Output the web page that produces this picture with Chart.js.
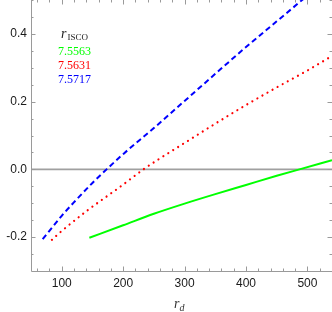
<!DOCTYPE html>
<html>
<head>
<meta charset="utf-8">
<script src="https://cdn.jsdelivr.net/npm/chart.js@4/dist/chart.umd.min.js"></script>
<style>
html,body{margin:0;padding:0;background:#fff;}
#wrap{width:332px;height:312px;}
</style>
</head>
<body>
<div id="wrap"><canvas id="c" width="332" height="312"></canvas></div>
<script>
// ---- data ----
const greenX = [145, 200, 250, 300, 350, 400, 450, 487, 540];
const greenY = [-0.202, -0.165, -0.131, -0.101, -0.073, -0.046, -0.019, 0.0, 0.027];

const redX = [84, 100, 143.5, 200, 233, 257, 300, 350, 400, 450, 500, 540];
const redY = [-0.208, -0.182, -0.119, -0.045, 0.0, 0.029, 0.078, 0.135, 0.190, 0.242, 0.292, 0.335];

const blueX = [69, 100, 119, 150, 173, 200, 250, 300, 350, 400, 450, 500];
const blueY = [-0.206, -0.137, -0.099, -0.040, 0.0, 0.045, 0.122, 0.202, 0.282, 0.361, 0.437, 0.513];

const legendTitle = "r";
const legendTitleSub = "ISCO";
const legendLabels = ["7.5563", "7.5631", "7.5717"];

const xTicks = [100, 200, 300, 400, 500];
const xTickLabels = ["100", "200", "300", "400", "500"];
const yTicks = [-0.2, 0.0, 0.2, 0.4];
const yTickLabels = ["-0.2", "0.0", "0.2", "0.4"];
const xMinorStep = 20;
const yMinorStep = 0.05;
const xRange = [50, 540];
const yRange = [-0.3, 0.5];

const xTitle = "r";
const xTitleSub = "d";

// ---- styles ----
const GREEN = "rgb(0,255,0)";
const RED = "rgb(255,0,0)";
const BLUE = "rgb(0,0,255)";
const legendColors = [GREEN, RED, BLUE];
const FRAME = "#9a9a9a";

const toPts = (xs, ys) => xs.map((x, i) => ({x: x, y: ys[i]}));

const framePlugin = {
  id: "frameTicks",
  beforeDatasetsDraw(chart) {
    const {ctx, chartArea: a, scales: {x, y}} = chart;
    ctx.save();
    ctx.strokeStyle = "#a0a0a0";
    ctx.lineWidth = 1.6;
    const y0 = y.getPixelForValue(0);
    ctx.beginPath(); ctx.moveTo(a.left, y0); ctx.lineTo(a.right, y0); ctx.stroke();
    ctx.restore();
  },
  afterDatasetsDraw(chart) {
    const {ctx, chartArea: a, scales: {x, y}} = chart;
    ctx.save();
    ctx.strokeStyle = FRAME;
    ctx.lineWidth = 1;
    ctx.beginPath();
    ctx.moveTo(a.left + 0.5, a.top); ctx.lineTo(a.left + 0.5, a.bottom + 0.5);
    ctx.lineTo(a.right, a.bottom + 0.5);
    ctx.stroke();
    const xs0 = Math.ceil(xRange[0] / xMinorStep) * xMinorStep;
    for (let v = xs0; v <= xRange[1]; v += xMinorStep) {
      const major = xTicks.includes(v);
      const len = major ? 4.5 : 2.5;
      const px = Math.round(x.getPixelForValue(v)) + 0.5;
      ctx.beginPath();
      ctx.moveTo(px, a.bottom); ctx.lineTo(px, a.bottom - len);
      ctx.moveTo(px, a.top); ctx.lineTo(px, a.top + len);
      ctx.stroke();
    }
    for (let k = Math.ceil(yRange[0] / yMinorStep); k * yMinorStep <= yRange[1] + 1e-9; k++) {
      const v = +(k * yMinorStep).toFixed(4);
      const major = yTicks.some(t => Math.abs(t - v) < 1e-9);
      const len = major ? 4.5 : 2.5;
      const py = Math.round(y.getPixelForValue(v)) + 0.5;
      ctx.beginPath();
      ctx.moveTo(a.left, py); ctx.lineTo(a.left + len, py);
      ctx.moveTo(a.right, py); ctx.lineTo(a.right - len, py);
      ctx.stroke();
    }
    const lx = a.left + 27;
    ctx.fillStyle = "#222";
    ctx.textBaseline = "alphabetic";
    ctx.textAlign = "left";
    ctx.font = "italic 14px 'Liberation Serif'";
    ctx.fillText(legendTitle, lx + 3, 38);
    const rw = ctx.measureText(legendTitle).width;
    ctx.font = "9px 'Liberation Serif'";
    ctx.fillText(legendTitleSub, lx + 3 + rw + 1, 40);
    ctx.font = "12px 'Liberation Serif'";
    const bases = [55, 68.5, 82.5];
    legendLabels.forEach((t, i) => {
      ctx.fillStyle = legendColors[i];
      ctx.fillText(t, lx, bases[i]);
    });
    ctx.fillStyle = "#333";
    ctx.font = "italic 14px 'Liberation Serif'";
    const cx = 174;
    ctx.fillText(xTitle, cx, 308);
    const tw = ctx.measureText(xTitle).width;
    ctx.font = "italic 10px 'Liberation Serif'";
    ctx.fillText(xTitleSub, cx + tw, 311);
    ctx.restore();
  }
};

new Chart(document.getElementById("c"), {
  type: "line",
  data: {
    datasets: [
      {data: toPts(greenX, greenY), borderColor: GREEN, borderWidth: 2, pointRadius: 0, cubicInterpolationMode: "monotone", fill: false},
      {data: toPts(redX, redY), borderColor: RED, borderWidth: 2.2, borderDash: [0.01, 5.8], borderCapStyle: "round", pointRadius: 0, cubicInterpolationMode: "monotone", fill: false},
      {data: toPts(blueX, blueY), borderColor: BLUE, borderWidth: 2, borderDash: [5.5, 3.5], pointRadius: 0, cubicInterpolationMode: "monotone", fill: false}
    ]
  },
  options: {
    responsive: false,
    animation: false,
    devicePixelRatio: 1,
    layout: {padding: {left: 0, right: 0, top: 0, bottom: 0}},
    plugins: {legend: {display: false}, tooltip: {enabled: false}, title: {display: false}},
    scales: {
      x: {
        type: "linear", min: xRange[0], max: xRange[1],
        grid: {display: false, drawTicks: false},
        border: {display: false},
        afterBuildTicks: s => { s.ticks = xTicks.map(v => ({value: v})); },
        afterFit: s => { s.height = 41; s.paddingLeft = 0; s.paddingRight = 0; },
        ticks: {padding: 5, color: "#1a1a1a", font: {family: "'Liberation Sans'", size: 12},
          maxRotation: 0, callback: (v, i) => xTickLabels[i]}
      },
      y: {
        type: "linear", min: yRange[0], max: yRange[1],
        grid: {display: false, drawTicks: false},
        border: {display: false},
        afterBuildTicks: s => { s.ticks = yTicks.map(v => ({value: v})); },
        afterFit: s => { s.width = 31; s.paddingTop = 0; s.paddingBottom = 0; },
        ticks: {padding: 4, color: "#1a1a1a", font: {family: "'Liberation Sans'", size: 12},
          callback: (v, i) => yTickLabels[i]}
      }
    }
  },
  plugins: [framePlugin]
});
</script>
</body>
</html>
